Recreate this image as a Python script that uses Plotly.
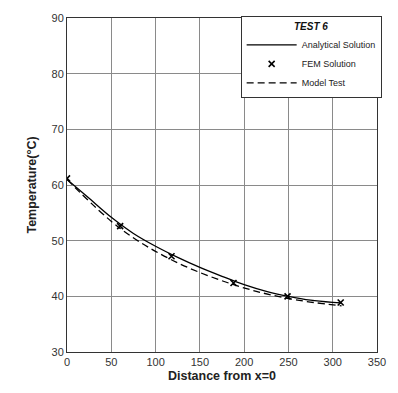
import plotly.graph_objects as go

# Analytical solution (smooth curve)
ana_x = [0, 25, 50, 75, 100, 125, 150, 175, 200, 225, 250, 275, 300, 310]
ana_y = [61.0, 57.6, 54.2, 51.3, 49.0, 47.0, 45.2, 43.6, 42.1, 40.9, 40.0, 39.3, 38.9, 38.8]

# FEM solution points
fem_x = [0, 60, 118, 188, 249, 309]
fem_y = [61.2, 52.6, 47.2, 42.4, 40.0, 38.9]

# Model test (dashed)
mod_x = [0, 60, 120, 190, 250, 310]
mod_y = [61.0, 52.2, 46.4, 42.0, 39.6, 38.3]

x_ticks = [0, 50, 100, 150, 200, 250, 300, 350]
y_ticks = [30, 40, 50, 60, 70, 80, 90]

fig = go.Figure()
fig.add_trace(go.Scatter(x=ana_x, y=ana_y, mode="lines", name="Analytical Solution",
                         line=dict(color="black", width=1.3, shape="spline")))
fig.add_trace(go.Scatter(x=fem_x, y=fem_y, mode="markers", name="FEM Solution",
                         marker=dict(symbol="x-thin", size=6, color="black",
                                     line=dict(color="black", width=1.6))))
fig.add_trace(go.Scatter(x=mod_x, y=mod_y, mode="lines", name="Model Test",
                         line=dict(color="black", width=1.3, dash="7px,4px", shape="spline")))

axis_common = dict(showgrid=True, gridcolor="#8a8a8a", gridwidth=1,
                   showline=True, linecolor="#333333", linewidth=1, mirror=True,
                   ticks="", zeroline=False,
                   tickfont=dict(family="Arial, Liberation Sans", size=11, color="#333"))

fig.update_xaxes(range=[0, 350], tickvals=x_ticks,
                 title=dict(text="<b>Distance from x=0</b>", standoff=4,
                            font=dict(family="Arial, Liberation Sans", size=12.5, color="#222")),
                 **axis_common)
fig.update_yaxes(range=[30, 90], tickvals=y_ticks,
                 title=dict(text="<b>Temperature(°C)</b>", standoff=12,
                            font=dict(family="Arial, Liberation Sans", size=12.5, color="#222")),
                 **axis_common)

fig.update_layout(
    width=398, height=393,
    margin=dict(l=67, r=15, t=15, b=40),
    plot_bgcolor="white", paper_bgcolor="white",
    showlegend=True,
    legend=dict(x=1.015, y=1.005, xanchor="right", yanchor="top",
                bgcolor="white", bordercolor="#333", borderwidth=1,
                title=dict(text="<b><i>TEST 6</i></b>", side="top center",
                           font=dict(family="Arial, Liberation Sans", size=10, color="#111")),
                font=dict(family="Arial, Liberation Sans", size=9, color="#222"),
                tracegroupgap=0, itemwidth=50),
)

fig.write_html("out.html")
